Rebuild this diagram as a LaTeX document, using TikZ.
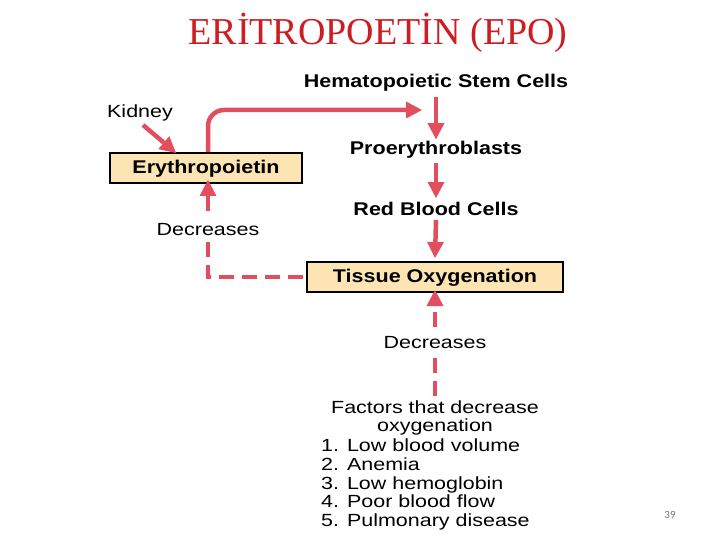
\documentclass[tikz,border=0pt]{standalone}
\usepackage{fontspec}
\setmainfont{Liberation Sans}
\newfontfamily\lblfont{Liberation Sans}[FakeStretch=1.17]
\newfontfamily\txtfont{Liberation Sans}[FakeStretch=1.22]
\newfontfamily\titlefont{Liberation Serif}
\newfontfamily\numfont{Carlito}
\usetikzlibrary{arrows.meta}
\definecolor{arrred}{RGB}{226,78,94}
\definecolor{boxfill}{RGB}{252,229,178}
\definecolor{titlered}{RGB}{204,30,34}
\begin{document}
\begin{tikzpicture}[x=1pt,y=-1pt,
  lbl/.style={font=\lblfont\bfseries\fontsize{18.4}{21}\selectfont, inner sep=2pt},
  txt/.style={font=\txtfont\fontsize{17.6}{18.6}\selectfont, inner sep=1pt},
  box/.style={lbl, draw=black, line width=2pt, fill=boxfill, minimum height=30pt, text depth=2pt},
  arr/.style={draw=arrred, line width=4.5pt, -{Triangle[length=16pt,width=17pt,line width=0pt]}},
  darr/.style={arr, dash pattern=on 15pt off 8pt},
  gap/.style={fill=white, inner sep=4.5pt}
]
\useasboundingbox (0,0) rectangle (720,540);
\node[font=\titlefont\fontsize{38}{40}\selectfont, text=titlered] (title) at (378,33) {ERİTROPOETİN (EPO)};

\node[lbl] (hsc) at (436,83) {Hematopoietic Stem Cells};
\node[lbl] (pro) at (436,150) {Proerythroblasts};
\node[lbl] (rbc) at (436,209) {Red Blood Cells};
\node[box, minimum width=256pt] (tissue) at (435,277) {Tissue Oxygenation};
\node[box, minimum width=192pt] (epo) at (206,168) {Erythropoietin};
\node[txt] (kidney) at (140,113) {Kidney};
\node[txt, align=center] (factors) at (435,418) {Factors that decrease\\oxygenation};
\node[txt, align=left, anchor=north west] (list) at (320,438) {1. Low blood volume\\2. Anemia\\3. Low hemoglobin\\4. Poor blood flow\\5. Pulmonary disease};
\node[font=\numfont\fontsize{11}{12}\selectfont, text=black!55] (num) at (670,515) {39};

\coordinate (join) at (422,110);
\coordinate (kstart) at (143,125);

\draw[arr] (hsc.south -| 436,0) ++(0,3) coordinate (a1) -- (a1 |- pro.north) ;
\draw[arr] ([yshift=-2pt]pro.south) -- ([yshift=2pt]rbc.north);
\draw[arr] ([yshift=-2pt]rbc.south) -- ([yshift=3pt]tissue.north);
\draw[arr, rounded corners=16pt] ([xshift=2pt]epo.north) |- (join);
\draw[arr] (kstart) -- ([xshift=-30pt,yshift=-1pt]epo.north);
\draw[darr] ([xshift=-3pt]tissue.west) -| ([xshift=2pt,yshift=4pt]epo.south)
  node[pos=0.745, txt, gap] (dec1) {Decreases};
\draw[darr] ([yshift=3pt]factors.north) -- ([yshift=3pt]tissue.south)
  node[pos=0.51, txt, gap] (dec2) {Decreases};
\end{tikzpicture}
\end{document}
